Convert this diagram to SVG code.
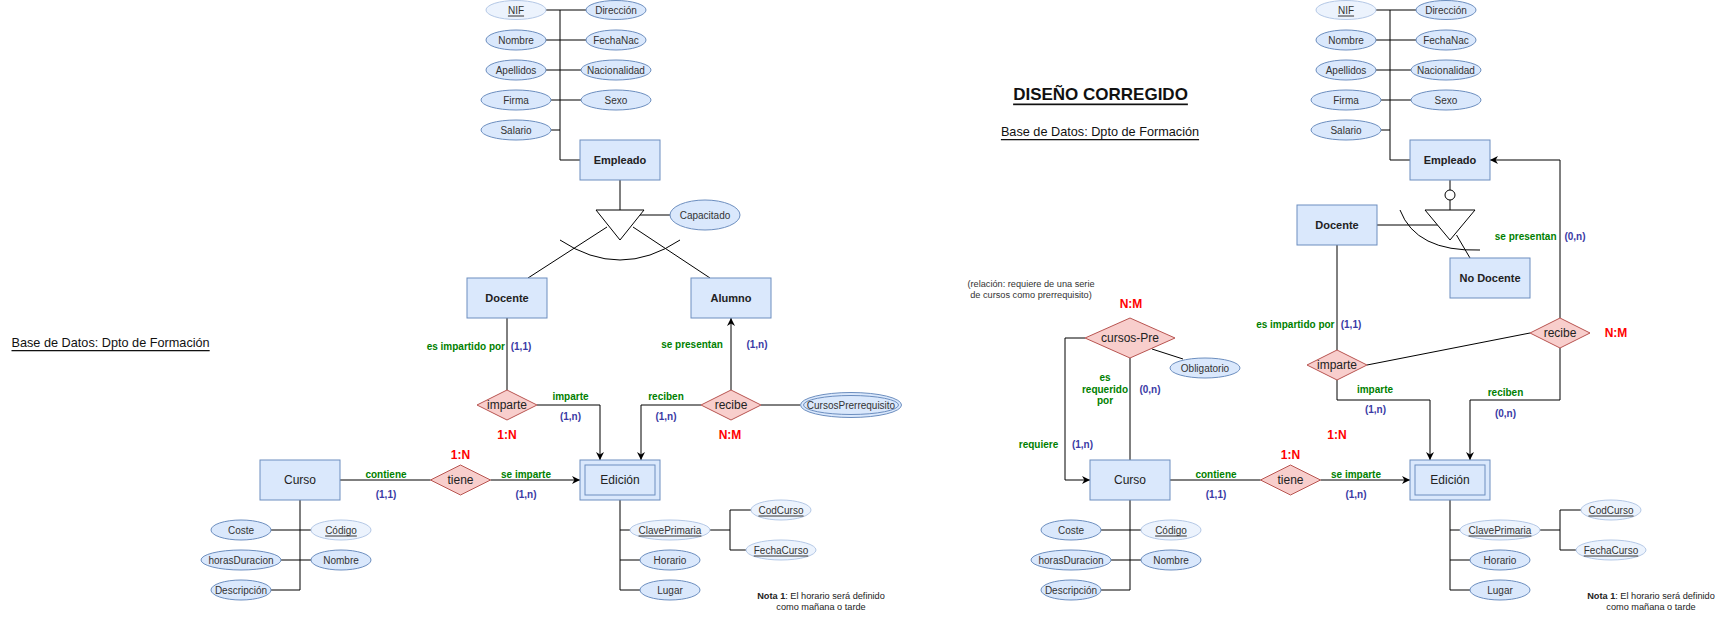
<svg xmlns="http://www.w3.org/2000/svg" width="1730" height="621" viewBox="0 0 1730 621">
<style>
text{font-family:"Liberation Sans",Arial,sans-serif;dominant-baseline:central;text-anchor:middle}
.ent{fill:#dae8fc;stroke:#6c8ebf;stroke-width:1}
.inn{fill:none;stroke:#6c8ebf;stroke-width:1}
.attr{fill:#dae8fc;stroke:#6c8ebf;stroke-width:1}
.key{fill:#ecf3fd;stroke:#b4c8e6;stroke-width:1}
.rel{fill:#f8cecc;stroke:#b85450;stroke-width:1}
.ln{fill:none;stroke:#000;stroke-width:1}
.arr{marker-end:url(#arrow)}
.at{font-size:10px;fill:#333}
.u{text-decoration:underline}
.en{font-size:11px;font-weight:bold;fill:#222}
.cn{font-size:12px;fill:#222}
.rt{font-size:12px;fill:#222}
.g{font-size:10px;font-weight:bold;fill:#007f00}
.b{font-size:10px;font-weight:bold;fill:#3a3aa5}
.r{font-size:12px;font-weight:bold;fill:#ff0000}
.note{font-size:9.2px;fill:#222}
.title{font-size:12.7px;fill:#111;text-decoration:underline}
</style>
<defs>
<marker id="arrow" viewBox="0 0 10 10" refX="10" refY="5" markerWidth="8" markerHeight="8" markerUnits="userSpaceOnUse" orient="auto">
<path d="M0,0 L10,5 L0,10 L3,5 z" fill="#000"/>
</marker>
</defs>
<rect width="1730" height="621" fill="#fff"/>

<g id="connectors">
<path class="ln" d="M560,10 V160 H580"/>
<path class="ln" d="M546,10 H586 M546,40 H586 M546,70 H581 M551,100 H581 M551,130 H560"/>
<path class="ln" d="M620,180 V210"/>
<path class="ln" d="M640,215 H670"/>
<path class="ln" d="M607,227 L528,278"/>
<path class="ln" d="M633,227 L710,278"/>
<path class="ln" d="M560,240 Q620,280 680,240"/>
<path class="ln" d="M507,318 V390"/>
<path class="ln arr" d="M537,405 H600 V460"/>
<path class="ln arr" d="M731,390 V318"/>
<path class="ln arr" d="M701,405 H641 V460"/>
<path class="ln" d="M761,405 H800"/>
<path class="ln" d="M340,480 H430.5"/>
<path class="ln arr" d="M490.5,480 H580"/>
<path class="ln" d="M300,500 V590 M271,530 H311 M281,560 H311 M271,590 H300"/>
<path class="ln" d="M620,500 V590 M620,530 H630 M620,560 H640 M620,590 H640"/>
<path class="ln" d="M710,530 H730 M730,510 V550 M730,510 H751 M730,550 H746"/>

<path class="ln" d="M1390,10 V160 H1410"/>
<path class="ln" d="M1376,10 H1416 M1376,40 H1416 M1376,70 H1411 M1381,100 H1411 M1381,130 H1390"/>
<path class="ln" d="M1450,180 V190 M1450,200 V210"/>
<path class="ln" d="M1377,225 H1438"/>
<path class="ln" d="M1456.5,235 L1470,258"/>
<path class="ln" d="M1400,210 Q1416,252 1480,250"/>
<path class="ln" d="M1337,245 V350"/>
<path class="ln" d="M1367,365 L1530,333"/>
<path class="ln arr" d="M1560,318 V160 H1490"/>
<path class="ln arr" d="M1337,380 V400 H1430 V460"/>
<path class="ln arr" d="M1560,348 V400 H1470 V460"/>
<path class="ln arr" d="M1085,338 H1065 V480 H1090"/>
<path class="ln" d="M1130,358 V460"/>
<path class="ln" d="M1152,349 L1183,359"/>
<path class="ln" d="M1170,480 H1260.5"/>
<path class="ln arr" d="M1320.5,480 H1410"/>
<path class="ln" d="M1130,500 V590 M1101,530 H1141 M1111,560 H1141 M1101,590 H1130"/>
<path class="ln" d="M1450,500 V590 M1450,530 H1460 M1450,560 H1470 M1450,590 H1470"/>
<path class="ln" d="M1540,530 H1560 M1560,510 V550 M1560,510 H1581 M1560,550 H1576"/>
</g>

<g id="L-NIF"><ellipse class="key" cx="516" cy="10" rx="30" ry="9.5"/><text class="at u" x="516" y="10">NIF</text></g>
<g id="L-Direccion"><ellipse class="attr" cx="616" cy="10" rx="30" ry="9.5"/><text class="at" x="616" y="10">Dirección</text></g>
<g id="L-Nombre"><ellipse class="attr" cx="516" cy="40" rx="30" ry="10"/><text class="at" x="516" y="40">Nombre</text></g>
<g id="L-FechaNac"><ellipse class="attr" cx="616" cy="40" rx="30" ry="10"/><text class="at" x="616" y="40">FechaNac</text></g>
<g id="L-Apellidos"><ellipse class="attr" cx="516" cy="70" rx="30" ry="10"/><text class="at" x="516" y="70">Apellidos</text></g>
<g id="L-Nacionalidad"><ellipse class="attr" cx="616" cy="70" rx="35" ry="10"/><text class="at" x="616" y="70">Nacionalidad</text></g>
<g id="L-Firma"><ellipse class="attr" cx="516" cy="100" rx="35" ry="10"/><text class="at" x="516" y="100">Firma</text></g>
<g id="L-Sexo"><ellipse class="attr" cx="616" cy="100" rx="35" ry="10"/><text class="at" x="616" y="100">Sexo</text></g>
<g id="L-Salario"><ellipse class="attr" cx="516" cy="130" rx="35" ry="10"/><text class="at" x="516" y="130">Salario</text></g>
<g id="L-Empleado"><rect class="ent" x="580" y="140" width="80" height="40"/><text class="en" x="620" y="160">Empleado</text></g>
<g id="L-ISA"><polygon points="596,210 644,210 620,240" fill="#fff" stroke="#000"/></g>
<g id="L-Capacitado"><ellipse class="attr" cx="705" cy="215" rx="35" ry="15"/><text class="at" x="705" y="215">Capacitado</text></g>
<g id="L-Docente"><rect class="ent" x="467" y="278" width="80" height="40"/><text class="en" x="507" y="298">Docente</text></g>
<g id="L-Alumno"><rect class="ent" x="691" y="278" width="80" height="40"/><text class="en" x="731" y="298">Alumno</text></g>
<g id="L-imparte"><polygon class="rel" points="477,405 507,390 537,405 507,420"/><text class="rt" x="507" y="405">imparte</text></g>
<g id="L-recibe"><polygon class="rel" points="701,405 731,390 761,405 731,420"/><text class="rt" x="731" y="405">recibe</text></g>
<g id="L-CursosPrerrequisito"><ellipse class="attr" cx="851" cy="405" rx="50.5" ry="12.5"/><ellipse class="inn" cx="851" cy="405" rx="47.5" ry="9.5"/><text class="at" x="851" y="405">CursosPrerrequisito</text></g>
<g id="L-Curso"><rect class="ent" x="260" y="460" width="80" height="40"/><text class="cn" x="300" y="480">Curso</text></g>
<g id="L-tiene"><polygon class="rel" points="430.5,480 460.5,465 490.5,480 460.5,495"/><text class="rt" x="460.5" y="480">tiene</text></g>
<g id="L-Edicion"><rect class="ent" x="580" y="460" width="80" height="40"/><rect class="inn" x="585" y="465" width="70" height="30"/><text class="cn" x="620" y="480">Edición</text></g>
<g id="L-Coste"><ellipse class="attr" cx="241" cy="530" rx="30" ry="10"/><text class="at" x="241" y="530">Coste</text></g>
<g id="L-Codigo"><ellipse class="key" cx="341" cy="530" rx="30" ry="10"/><text class="at u" x="341" y="530">Código</text></g>
<g id="L-horasDuracion"><ellipse class="attr" cx="241" cy="560" rx="40" ry="10"/><text class="at" x="241" y="560">horasDuracion</text></g>
<g id="L-NombreCurso"><ellipse class="attr" cx="341" cy="560" rx="30" ry="10"/><text class="at" x="341" y="560">Nombre</text></g>
<g id="L-Descripcion"><ellipse class="attr" cx="241" cy="590" rx="30" ry="10"/><text class="at" x="241" y="590">Descripción</text></g>
<g id="L-ClavePrimaria"><ellipse class="key" cx="670" cy="530" rx="40" ry="10"/><text class="at u" x="670" y="530">ClavePrimaria</text></g>
<g id="L-Horario"><ellipse class="attr" cx="670" cy="560" rx="30" ry="10"/><text class="at" x="670" y="560">Horario</text></g>
<g id="L-Lugar"><ellipse class="attr" cx="670" cy="590" rx="30" ry="10"/><text class="at" x="670" y="590">Lugar</text></g>
<g id="L-CodCurso"><ellipse class="key" cx="781" cy="510" rx="30" ry="10"/><text class="at u" x="781" y="510">CodCurso</text></g>
<g id="L-FechaCurso"><ellipse class="key" cx="781" cy="550" rx="35" ry="10"/><text class="at u" x="781" y="550">FechaCurso</text></g>

<g id="L-labels">
<text class="title" x="11.5" y="343" style="text-anchor:start">Base de Datos: Dpto de Formación</text>
<text class="g" x="505" y="346" style="text-anchor:end">es impartido por</text>
<text class="b" x="521" y="346">(1,1)</text>
<text class="g" x="692" y="344">se presentan</text>
<text class="b" x="757" y="344">(1,n)</text>
<text class="g" x="570.5" y="396">imparte</text>
<text class="b" x="570.5" y="416">(1,n)</text>
<text class="g" x="666" y="396">reciben</text>
<text class="b" x="666" y="416">(1,n)</text>
<text class="r" x="507" y="435">1:N</text>
<text class="r" x="730" y="435">N:M</text>
<text class="r" x="460.5" y="454.5">1:N</text>
<text class="g" x="386" y="474">contiene</text>
<text class="b" x="386" y="494">(1,1)</text>
<text class="g" x="526" y="474">se imparte</text>
<text class="b" x="526" y="494">(1,n)</text>
<text class="note" x="821" y="596"><tspan font-weight="bold">Nota 1</tspan>: El horario será definido</text>
<text class="note" x="821" y="607">como mañana o tarde</text>
</g>

<g id="R-NIF"><ellipse class="key" cx="1346" cy="10" rx="30" ry="9.5"/><text class="at u" x="1346" y="10">NIF</text></g>
<g id="R-Direccion"><ellipse class="attr" cx="1446" cy="10" rx="30" ry="9.5"/><text class="at" x="1446" y="10">Dirección</text></g>
<g id="R-Nombre"><ellipse class="attr" cx="1346" cy="40" rx="30" ry="10"/><text class="at" x="1346" y="40">Nombre</text></g>
<g id="R-FechaNac"><ellipse class="attr" cx="1446" cy="40" rx="30" ry="10"/><text class="at" x="1446" y="40">FechaNac</text></g>
<g id="R-Apellidos"><ellipse class="attr" cx="1346" cy="70" rx="30" ry="10"/><text class="at" x="1346" y="70">Apellidos</text></g>
<g id="R-Nacionalidad"><ellipse class="attr" cx="1446" cy="70" rx="35" ry="10"/><text class="at" x="1446" y="70">Nacionalidad</text></g>
<g id="R-Firma"><ellipse class="attr" cx="1346" cy="100" rx="35" ry="10"/><text class="at" x="1346" y="100">Firma</text></g>
<g id="R-Sexo"><ellipse class="attr" cx="1446" cy="100" rx="35" ry="10"/><text class="at" x="1446" y="100">Sexo</text></g>
<g id="R-Salario"><ellipse class="attr" cx="1346" cy="130" rx="35" ry="10"/><text class="at" x="1346" y="130">Salario</text></g>
<g id="R-Empleado"><rect class="ent" x="1410" y="140" width="80" height="40"/><text class="en" x="1450" y="160">Empleado</text></g>
<g id="R-ISA"><circle cx="1450" cy="195" r="5" fill="#fff" stroke="#000"/><polygon points="1425,210 1475,210 1450,240" fill="#fff" stroke="#000"/></g>
<g id="R-Docente"><rect class="ent" x="1297" y="205" width="80" height="40"/><text class="en" x="1337" y="225">Docente</text></g>
<g id="R-NoDocente"><rect class="ent" x="1450" y="258" width="80" height="40"/><text class="en" x="1490" y="278">No Docente</text></g>
<g id="R-imparte"><polygon class="rel" points="1307,365 1337,350 1367,365 1337,380"/><text class="rt" x="1337" y="365">imparte</text></g>
<g id="R-recibe"><polygon class="rel" points="1530,333 1560,318 1590,333 1560,348"/><text class="rt" x="1560" y="333">recibe</text></g>
<g id="R-cursosPre"><polygon class="rel" points="1085,338 1130,318 1175,338 1130,358"/><text class="rt" x="1130" y="338">cursos-Pre</text></g>
<g id="R-Obligatorio"><ellipse class="attr" cx="1205" cy="368" rx="35" ry="10"/><text class="at" x="1205" y="368">Obligatorio</text></g>
<g id="R-Curso"><rect class="ent" x="1090" y="460" width="80" height="40"/><text class="cn" x="1130" y="480">Curso</text></g>
<g id="R-tiene"><polygon class="rel" points="1260.5,480 1290.5,465 1320.5,480 1290.5,495"/><text class="rt" x="1290.5" y="480">tiene</text></g>
<g id="R-Edicion"><rect class="ent" x="1410" y="460" width="80" height="40"/><rect class="inn" x="1415" y="465" width="70" height="30"/><text class="cn" x="1450" y="480">Edición</text></g>
<g id="R-Coste"><ellipse class="attr" cx="1071" cy="530" rx="30" ry="10"/><text class="at" x="1071" y="530">Coste</text></g>
<g id="R-Codigo"><ellipse class="key" cx="1171" cy="530" rx="30" ry="10"/><text class="at u" x="1171" y="530">Código</text></g>
<g id="R-horasDuracion"><ellipse class="attr" cx="1071" cy="560" rx="40" ry="10"/><text class="at" x="1071" y="560">horasDuracion</text></g>
<g id="R-NombreCurso"><ellipse class="attr" cx="1171" cy="560" rx="30" ry="10"/><text class="at" x="1171" y="560">Nombre</text></g>
<g id="R-Descripcion"><ellipse class="attr" cx="1071" cy="590" rx="30" ry="10"/><text class="at" x="1071" y="590">Descripción</text></g>
<g id="R-ClavePrimaria"><ellipse class="key" cx="1500" cy="530" rx="40" ry="10"/><text class="at u" x="1500" y="530">ClavePrimaria</text></g>
<g id="R-Horario"><ellipse class="attr" cx="1500" cy="560" rx="30" ry="10"/><text class="at" x="1500" y="560">Horario</text></g>
<g id="R-Lugar"><ellipse class="attr" cx="1500" cy="590" rx="30" ry="10"/><text class="at" x="1500" y="590">Lugar</text></g>
<g id="R-CodCurso"><ellipse class="key" cx="1611" cy="510" rx="30" ry="10"/><text class="at u" x="1611" y="510">CodCurso</text></g>
<g id="R-FechaCurso"><ellipse class="key" cx="1611" cy="550" rx="35" ry="10"/><text class="at u" x="1611" y="550">FechaCurso</text></g>

<g id="R-labels">
<text x="1100.5" y="94" style="font-size:17px;font-weight:bold;fill:#111;text-decoration:underline">DISEÑO CORREGIDO</text>
<text class="title" x="1100" y="132">Base de Datos: Dpto de Formación</text>
<text class="note" x="1031" y="283.5" style="fill:#333">(relación: requiere de una serie</text>
<text class="note" x="1031" y="295" style="fill:#333">de cursos como prerrequisito)</text>
<text class="r" x="1131" y="303.5">N:M</text>
<text class="g" x="1334.5" y="324.5" style="text-anchor:end">es impartido por</text>
<text class="b" x="1351" y="324.5">(1,1)</text>
<text class="g" x="1556.5" y="236" style="text-anchor:end">se presentan</text>
<text class="b" x="1575" y="236">(0,n)</text>
<text class="r" x="1616" y="333">N:M</text>
<text class="g" x="1105" y="377.5">es</text>
<text class="g" x="1105" y="389">requerido</text>
<text class="g" x="1105" y="400.5">por</text>
<text class="b" x="1150" y="389">(0,n)</text>
<text class="g" x="1375" y="389">imparte</text>
<text class="b" x="1375.5" y="409">(1,n)</text>
<text class="g" x="1505.5" y="392.5">reciben</text>
<text class="b" x="1505.5" y="413">(0,n)</text>
<text class="r" x="1337" y="435">1:N</text>
<text class="r" x="1290.5" y="455">1:N</text>
<text class="g" x="1038.5" y="444">requiere</text>
<text class="b" x="1082.5" y="444">(1,n)</text>
<text class="g" x="1216" y="474">contiene</text>
<text class="b" x="1216" y="494">(1,1)</text>
<text class="g" x="1356" y="474">se imparte</text>
<text class="b" x="1356" y="494">(1,n)</text>
<text class="note" x="1651" y="596"><tspan font-weight="bold">Nota 1</tspan>: El horario será definido</text>
<text class="note" x="1651" y="607">como mañana o tarde</text>
</g>
</svg>
